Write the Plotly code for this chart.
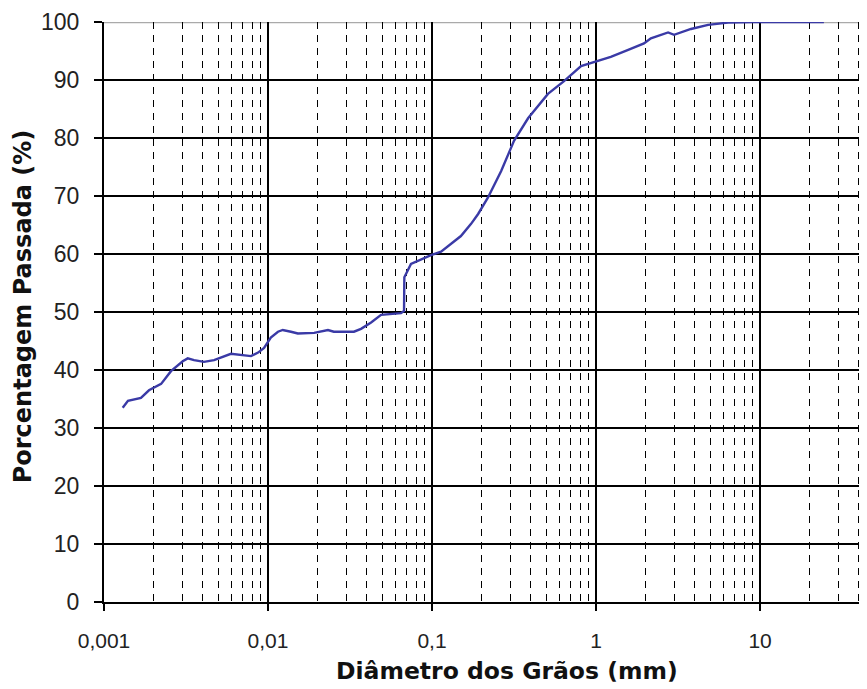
import plotly.graph_objects as go

# Grain-size distribution curve
diametro_mm = [
    0.0013, 0.0014, 0.00168, 0.00188, 0.00223, 0.00256, 0.00302, 0.00324,
    0.00354, 0.00407, 0.00469, 0.0054, 0.00594, 0.00787, 0.0087, 0.00946,
    0.0104, 0.0115, 0.0123, 0.0138, 0.0152, 0.0191, 0.0232, 0.0252, 0.0334,
    0.0369, 0.0425, 0.0489, 0.0647, 0.0675, 0.0678, 0.0744, 0.0857, 0.0986,
    0.1135, 0.1306, 0.150, 0.173, 0.191, 0.219, 0.264, 0.316, 0.385, 0.509,
    0.638, 0.81, 0.96, 1.23, 1.57, 1.96, 2.16, 2.75, 2.99, 3.79, 4.82, 6.38,
    9.19, 24.5,
]
passada_pct = [
    33.5, 34.7, 35.2, 36.5, 37.6, 39.8, 41.5, 42.0,
    41.7, 41.4, 41.7, 42.4, 42.8, 42.4, 43.0, 43.8,
    45.6, 46.6, 46.9, 46.6, 46.3, 46.4, 46.9, 46.6, 46.6,
    47.1, 48.2, 49.5, 49.8, 50.2, 56.0, 58.3, 59.1, 59.8,
    60.4, 61.7, 63.1, 65.2, 66.9, 69.7, 74.3, 79.5, 83.4, 87.6,
    89.8, 92.4, 93.1, 94.0, 95.2, 96.3, 97.2, 98.2, 97.8, 98.8, 99.5, 99.9,
    100.0, 100.0,
]

x_tickvals = [0.001, 0.01, 0.1, 1, 10]
x_ticktext = ["0,001", "0,01", "0,1", "1", "10"]
y_tickvals = [0, 10, 20, 30, 40, 50, 60, 70, 80, 90, 100]
x_title = "Diâmetro dos Grãos (mm)"
y_title = "Porcentagem Passada (%)"

fig = go.Figure()
fig.add_trace(go.Scatter(
    x=diametro_mm, y=passada_pct, mode="lines",
    line=dict(color="#3a3aa6", width=2.4),
    showlegend=False,
))

sans = "Liberation Sans, Arial, sans-serif"
title_font = "DejaVu Sans, Verdana, sans-serif"

fig.update_layout(
    width=867, height=689,
    margin=dict(l=96, r=8, t=14, b=95),
    paper_bgcolor="white", plot_bgcolor="white",
    font=dict(family=sans, size=20, color="#222"),
    separators=",.",
)

fig.update_xaxes(
    type="log", range=[-3, 1.652], automargin=False,
    tickvals=x_tickvals, ticktext=x_ticktext,
    tickfont=dict(family=sans, size=21, color="#222"),
    showgrid=True, gridcolor="black", gridwidth=1.8,
    showline=True, linecolor="black", linewidth=2,
    ticks="outside", ticklen=7, tickcolor="black", tickwidth=1.5,
    ticklabelstandoff=12,
    zeroline=False,
    minor=dict(dtick="D1", showgrid=True, gridcolor="black",
               griddash="7px,6px", gridwidth=1.4),
)
fig.update_yaxes(
    range=[0, 100], tickvals=y_tickvals, automargin=False,
    tickfont=dict(family=sans, size=23, color="#222"),
    showgrid=True, gridcolor="black", gridwidth=1.8,
    showline=True, linecolor="black", linewidth=2,
    ticks="outside", ticklen=8, tickcolor="black", tickwidth=1.5,
    ticklabelstandoff=10,
    zeroline=False,
)

# axis titles
fig.add_annotation(text="<b>" + x_title + "</b>", xref="paper", yref="paper",
                   x=0.528, y=-0.119, xanchor="center", yanchor="middle",
                   showarrow=False, font=dict(family=title_font, size=23.5, color="#111"))
fig.add_annotation(text="<b>" + y_title + "</b>", xref="paper", yref="paper",
                   x=-0.106, y=0.510, xanchor="center", yanchor="middle",
                   textangle=-90, showarrow=False,
                   font=dict(family=title_font, size=24, color="#111"))

# top border of the plotting area is drawn grey in the reference
fig.add_shape(type="line", xref="paper", yref="y", x0=0, x1=1, y0=100, y1=100,
              line=dict(color="#aaaaaa", width=2.5), layer="between")

fig.write_html("out.html")
